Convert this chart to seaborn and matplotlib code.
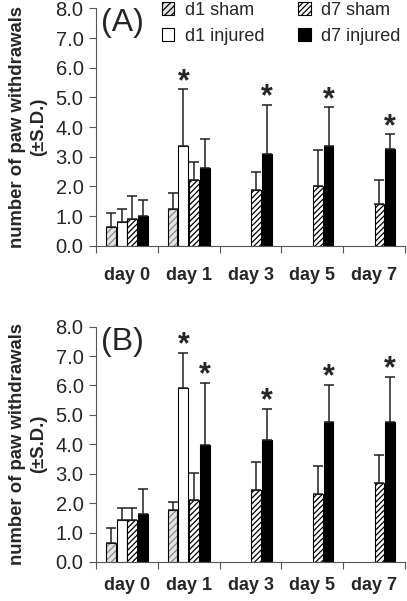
import numpy as np
import pandas as pd
import matplotlib
matplotlib.use('Agg')
import matplotlib.pyplot as plt
import matplotlib.patches as mpatches
import seaborn as sns

# ---------------- data ----------------
days = ['day 0', 'day 1', 'day 3', 'day 5', 'day 7']
groups = ['d1 sham', 'd1 injured', 'd7 sham', 'd7 injured']
nan = np.nan

# panel A
a_d1_sham = [0.65, 1.25, nan, nan, nan]
a_d1_inj = [0.80, 3.38, nan, nan, nan]
a_d7_sham = [0.91, 2.21, 1.88, 2.01, 1.42]
a_d7_inj = [1.02, 2.63, 3.10, 3.38, 3.27]
a_sd_d1_sham = [0.47, 0.53, nan, nan, nan]
a_sd_d1_inj = [0.45, 1.89, nan, nan, nan]
a_sd_d7_sham = [0.77, 0.63, 0.60, 1.21, 0.79]
a_sd_d7_inj = [0.54, 0.98, 1.66, 1.29, 0.49]
a_stars = [('day 1', 'd1 injured'), ('day 3', 'd7 injured'),
           ('day 5', 'd7 injured'), ('day 7', 'd7 injured')]

# panel B
b_d1_sham = [0.64, 1.78, nan, nan, nan]
b_d1_inj = [1.41, 5.92, nan, nan, nan]
b_d7_sham = [1.41, 2.12, 2.43, 2.32, 2.70]
b_d7_inj = [1.63, 3.98, 4.15, 4.75, 4.75]
b_sd_d1_sham = [0.50, 0.27, nan, nan, nan]
b_sd_d1_inj = [0.43, 1.20, nan, nan, nan]
b_sd_d7_sham = [0.43, 0.89, 0.96, 0.93, 0.92]
b_sd_d7_inj = [0.85, 2.12, 1.06, 1.28, 1.55]
b_stars = [('day 1', 'd1 injured'), ('day 1', 'd7 injured'),
           ('day 3', 'd7 injured'), ('day 5', 'd7 injured'),
           ('day 7', 'd7 injured')]


def make_df(means, sds):
    rows = []
    for g, m, s in zip(groups, means, sds):
        for d, mv, sv in zip(days, m, s):
            rows.append({'day': d, 'group': g, 'mean': mv, 'sd': sv})
    return pd.DataFrame(rows).dropna()


df_a = make_df([a_d1_sham, a_d1_inj, a_d7_sham, a_d7_inj],
               [a_sd_d1_sham, a_sd_d1_inj, a_sd_d7_sham, a_sd_d7_inj])
df_b = make_df([b_d1_sham, b_d1_inj, b_d7_sham, b_d7_inj],
               [b_sd_d1_sham, b_sd_d1_inj, b_sd_d7_sham, b_sd_d7_inj])

# styles
face = {'d1 sham': '#e4e4e4', 'd1 injured': 'white',
        'd7 sham': 'white', 'd7 injured': 'black'}
hatch = {'d1 sham': '/////', 'd1 injured': '', 'd7 sham': '//////', 'd7 injured': ''}
hcol = {'d1 sham': '#8a8a8a', 'd1 injured': 'black', 'd7 sham': 'black', 'd7 injured': 'black'}

sns.set_style('white')
plt.rcParams['font.family'] = ['Liberation Sans', 'DejaVu Sans']
plt.rcParams['hatch.linewidth'] = 0.9

fig = plt.figure(figsize=(4.07, 6.01), dpi=100)
ax_a = fig.add_axes([0.236, 0.591, 0.759, 0.395])
ax_b = fig.add_axes([0.236, 0.065, 0.759, 0.3915])


def draw_panel(ax, df, stars, label, xpad, legend=False):
    sns.barplot(data=df, x='day', y='mean', hue='group', order=days,
                hue_order=groups, errorbar=None, width=0.7, gap=0.08,
                palette=['white'] * 4, edgecolor='black', linewidth=0.8,
                legend=False, ax=ax)
    for g, cont in zip([g for g in groups if g in set(df['group'])], ax.containers):
        sub = df[df['group'] == g].set_index('day')
        for bar in cont:
            xc = bar.get_x() + bar.get_width() / 2
            d = days[int(round(xc))]
            bar.set_facecolor(face[g])
            if hatch[g]:
                bar.set_hatch(hatch[g])
                if hasattr(bar, 'set_hatchcolor'):
                    bar.set_hatchcolor(hcol[g])
                else:
                    bar._hatch_color = matplotlib.colors.to_rgba(hcol[g])
            m, s = sub.loc[d, 'mean'], sub.loc[d, 'sd']
            ax.errorbar(xc, m, yerr=[[0], [s]], fmt='none', ecolor='#222222',
                        elinewidth=1.1, capsize=3.8, capthick=1.1, zorder=1)
            if (d, g) in stars:
                ax.text(xc, m + s - 0.03, '*', ha='center', va='baseline',
                        fontsize=22, fontweight='bold')
    ax.set_xlim(-0.5, 4.5)
    ax.set_ylim(0, 8)
    ax.set_yticks(np.arange(0, 9, 1))
    ax.set_yticklabels([f'{v:.1f}' for v in range(9)], fontsize=14.5)
    ax.set_xticks(np.arange(-0.5, 5, 1))
    ax.set_xticklabels([])
    ax.set_xticks(range(5), minor=True)
    ax.set_xticklabels(days, minor=True, fontsize=13, fontweight='bold')
    ax.tick_params(axis='x', which='major', direction='out', length=5,
                   width=0.8, color='#555555', bottom=True)
    ax.tick_params(axis='x', which='minor', length=0, pad=xpad, bottom=True)
    ax.tick_params(axis='y', direction='out', length=5, width=0.8,
                   color='#555555', left=True, pad=4)
    for sp in ['top', 'right']:
        ax.spines[sp].set_visible(False)
    for sp in ['left', 'bottom']:
        ax.spines[sp].set_color('#555555')
        ax.spines[sp].set_linewidth(0.8)
    ax.set_xlabel('')
    ax.set_ylabel('number of paw withdrawals\n(±S.D.)', fontsize=13.3,
                  fontweight='bold', labelpad=6, linespacing=1.3)
    ax.text(0.015, 1.0, label, transform=ax.transAxes, fontsize=23,
            va='top', ha='left')
    if legend:
        handles = []
        for g in groups:
            p = mpatches.Patch(facecolor=face[g], edgecolor='black',
                               hatch=hatch[g], linewidth=0.8, label=g)
            if hatch[g] and hasattr(p, 'set_hatchcolor'):
                p.set_hatchcolor(hcol[g])
            handles.append(p)
        fig.legend(handles=handles, ncol=2, frameon=False, fontsize=13,
                   loc='upper left', bbox_to_anchor=(158 / 407, 1 + 2 / 601),
                   handlelength=0.7, handleheight=0.7, handletextpad=0.6,
                   columnspacing=1.85, labelspacing=0.5, borderaxespad=0,
                   borderpad=0.2)


draw_panel(ax_a, df_a, a_stars, '(A)', 15, legend=True)
draw_panel(ax_b, df_b, b_stars, '(B)', 11)

fig.savefig('out.png', dpi=100)
